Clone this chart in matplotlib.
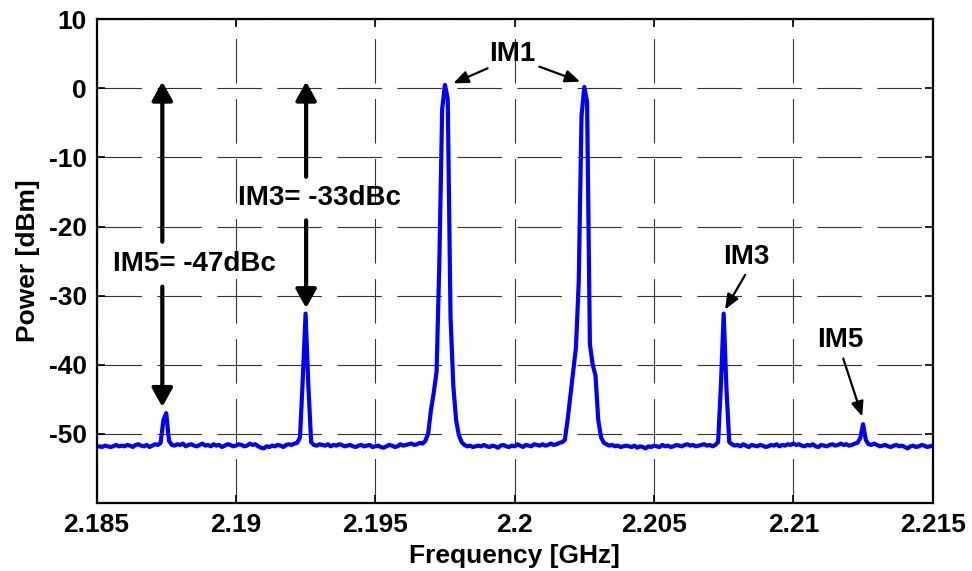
import numpy as np
import matplotlib.pyplot as plt

plt.rcParams['font.family'] = ['Liberation Sans', 'DejaVu Sans']
plt.rcParams['font.weight'] = 'bold'
plt.rcParams['axes.unicode_minus'] = False

# Spectrum trace, one sample every 0.1 MHz from 2.185 to 2.215 GHz
freq = np.linspace(2.185, 2.215, 301)
power = [
    -51.9, -51.8, -51.9, -51.7, -51.8, -51.9, -51.8, -51.6, -51.8, -51.7,
    -51.8, -51.6, -51.7, -51.9, -51.6, -51.5, -51.7, -51.8, -51.6, -51.9,
    -51.7, -51.5, -51.6, -51.3, -48.0, -47.0, -51.0, -51.6, -51.7, -51.5,
    -51.6, -51.4, -51.8, -51.6, -51.5, -51.7, -51.8, -51.6, -51.4, -51.7,
    -51.6, -51.8, -51.5, -51.7, -51.6, -51.9, -51.7, -51.5, -51.6, -51.8,
    -51.7, -51.5, -51.6, -51.8, -51.7, -51.4, -51.6, -51.5, -51.8, -52.0,
    -52.1, -51.8, -51.9, -51.7, -51.8, -51.6, -51.7, -51.9, -51.6, -51.5,
    -51.6, -51.4, -51.3, -50.5, -42.0, -32.6, -43.0, -51.2, -51.6, -51.7,
    -51.5, -51.6, -51.7, -51.5, -51.8, -51.6, -51.7, -51.5, -51.6, -51.8,
    -51.7, -51.6, -51.8, -51.9, -51.7, -51.6, -51.8, -51.7, -51.6, -51.9,
    -51.8, -51.7, -51.9, -52.0, -51.8, -51.6, -51.7, -51.9, -51.8, -51.5,
    -51.7, -51.6, -51.5, -51.4, -51.6, -51.5, -51.3, -51.4, -51.0, -49.9,
    -46.5, -44.0, -41.0, -25.0, -3.0, 0.5, -1.5, -33.0, -43.0, -48.0,
    -50.2, -51.2, -51.6, -51.8, -51.7, -51.9, -51.8, -51.7, -51.8, -51.6,
    -51.8, -51.9, -51.7, -51.8, -52.0, -51.7, -51.6, -51.8, -51.9, -51.7,
    -51.8, -51.5, -51.7, -51.9, -51.6, -51.7, -51.8, -51.5, -51.6, -51.7,
    -51.5, -51.7, -51.6, -51.4, -51.6, -51.5, -51.3, -51.2, -50.9, -48.0,
    -44.5, -41.0, -37.5, -28.0, -4.0, 0.2, -2.0, -37.0, -40.0, -41.5,
    -48.0, -50.5, -51.3, -51.5, -51.7, -51.6, -51.8, -51.7, -51.9, -51.8,
    -51.7, -51.8, -51.9, -51.7, -52.0, -51.8, -51.9, -52.1, -51.8, -51.9,
    -51.7, -51.8, -51.9, -51.6, -51.8, -51.7, -51.9, -51.8, -51.6, -51.7,
    -51.8, -51.6, -51.5, -51.7, -51.6, -51.8, -51.7, -51.6, -51.5, -51.7,
    -51.6, -51.8, -51.6, -51.2, -43.0, -32.6, -43.5, -51.2, -51.5, -51.7,
    -51.6, -51.8, -51.5, -51.7, -51.9, -51.6, -51.7, -51.8, -51.6, -51.7,
    -51.9, -51.8, -51.6, -51.7, -51.5, -51.8, -51.6, -51.7, -51.5, -51.6,
    -51.4, -51.6, -51.5, -51.7, -51.8, -51.6, -51.7, -51.5, -51.8, -51.9,
    -51.6, -51.7, -51.8, -51.6, -51.5, -51.7, -51.6, -51.4, -51.6, -51.5,
    -51.7, -51.6, -51.4, -51.3, -50.6, -48.6, -50.9, -51.5, -51.6, -51.4,
    -51.6, -51.8, -51.7, -51.6, -51.8, -51.9, -51.7, -51.6, -51.8, -51.7,
    -51.9, -52.1, -51.8, -51.7, -51.9, -51.8, -51.6, -51.7, -51.9, -51.8,
    -51.7,
]

xticks = [2.185, 2.19, 2.195, 2.2, 2.205, 2.21, 2.215]
xtick_labels = ['2.185', '2.19', '2.195', '2.2', '2.205', '2.21', '2.215']
yticks = [-50, -40, -30, -20, -10, 0, 10]

fig = plt.figure(figsize=(9.72, 5.71), dpi=100)
ax = fig.add_axes([0.0993, 0.1191, 0.8603, 0.8473])

ax.plot(freq, power, color='#0000ff', lw=3.0, solid_joinstyle='round')

ax.set_xlim(2.185, 2.215)
ax.set_ylim(-60, 10)
ax.set_xticks(xticks)
ax.set_xticklabels(xtick_labels)
ax.set_yticks(yticks)
ax.tick_params(direction='in', length=6, width=1.2, labelsize=19,
               top=True, right=True, pad=7)
for s in ax.spines.values():
    s.set_linewidth(1.6)
ax.grid(True, color='0.2', lw=0.8, linestyle=(0, (40, 14)))

ax.set_xlabel('Frequency [GHz]', fontsize=19, fontweight='bold', labelpad=5)
ax.set_ylabel('Power [dBm]', fontsize=19, fontweight='bold', labelpad=6)

# big double arrows (split around the labels)
big = dict(arrowstyle='-|>,head_length=0.45,head_width=0.25', mutation_scale=25,
           lw=3, color='k', shrinkA=0, shrinkB=0)
ax.annotate('', xy=(2.18736, 0.96), xytext=(2.18736, -22.2), arrowprops=big)
ax.annotate('', xy=(2.18736, -46.1), xytext=(2.18736, -28.7), arrowprops=big)
ax.annotate('', xy=(2.19252, 0.96), xytext=(2.19252, -12.8), arrowprops=big)
ax.annotate('', xy=(2.19252, -31.8), xytext=(2.19252, -19.1), arrowprops=big)

ax.text(2.19009, -15.9, 'IM3= -33dBc', fontsize=20, fontweight='bold',
        ha='left', va='center')
ax.text(2.18560, -25.4, 'IM5= -47dBc', fontsize=20, fontweight='bold',
        ha='left', va='center')

# small pointer arrows
small = dict(arrowstyle='-|>,head_length=0.6,head_width=0.25', mutation_scale=15,
             lw=1.6, color='k', shrinkA=0, shrinkB=0)
ax.text(2.19992, 4.9, 'IM1', fontsize=20, fontweight='bold', ha='center', va='center')
ax.annotate('', xy=(2.19780, 0.72), xytext=(2.19903, 2.89), arrowprops=small)
ax.annotate('', xy=(2.20235, 0.96), xytext=(2.20089, 3.13), arrowprops=small)

ax.text(2.2083, -24.4, 'IM3', fontsize=20, fontweight='bold', ha='center', va='center')
ax.annotate('', xy=(2.20755, -32.0), xytext=(2.20827, -27.0), arrowprops=small)

ax.text(2.2117, -36.4, 'IM5', fontsize=20, fontweight='bold', ha='center', va='center')
ax.annotate('', xy=(2.21247, -47.5), xytext=(2.21179, -39.1), arrowprops=small)

fig.savefig('out.png', dpi=100)
